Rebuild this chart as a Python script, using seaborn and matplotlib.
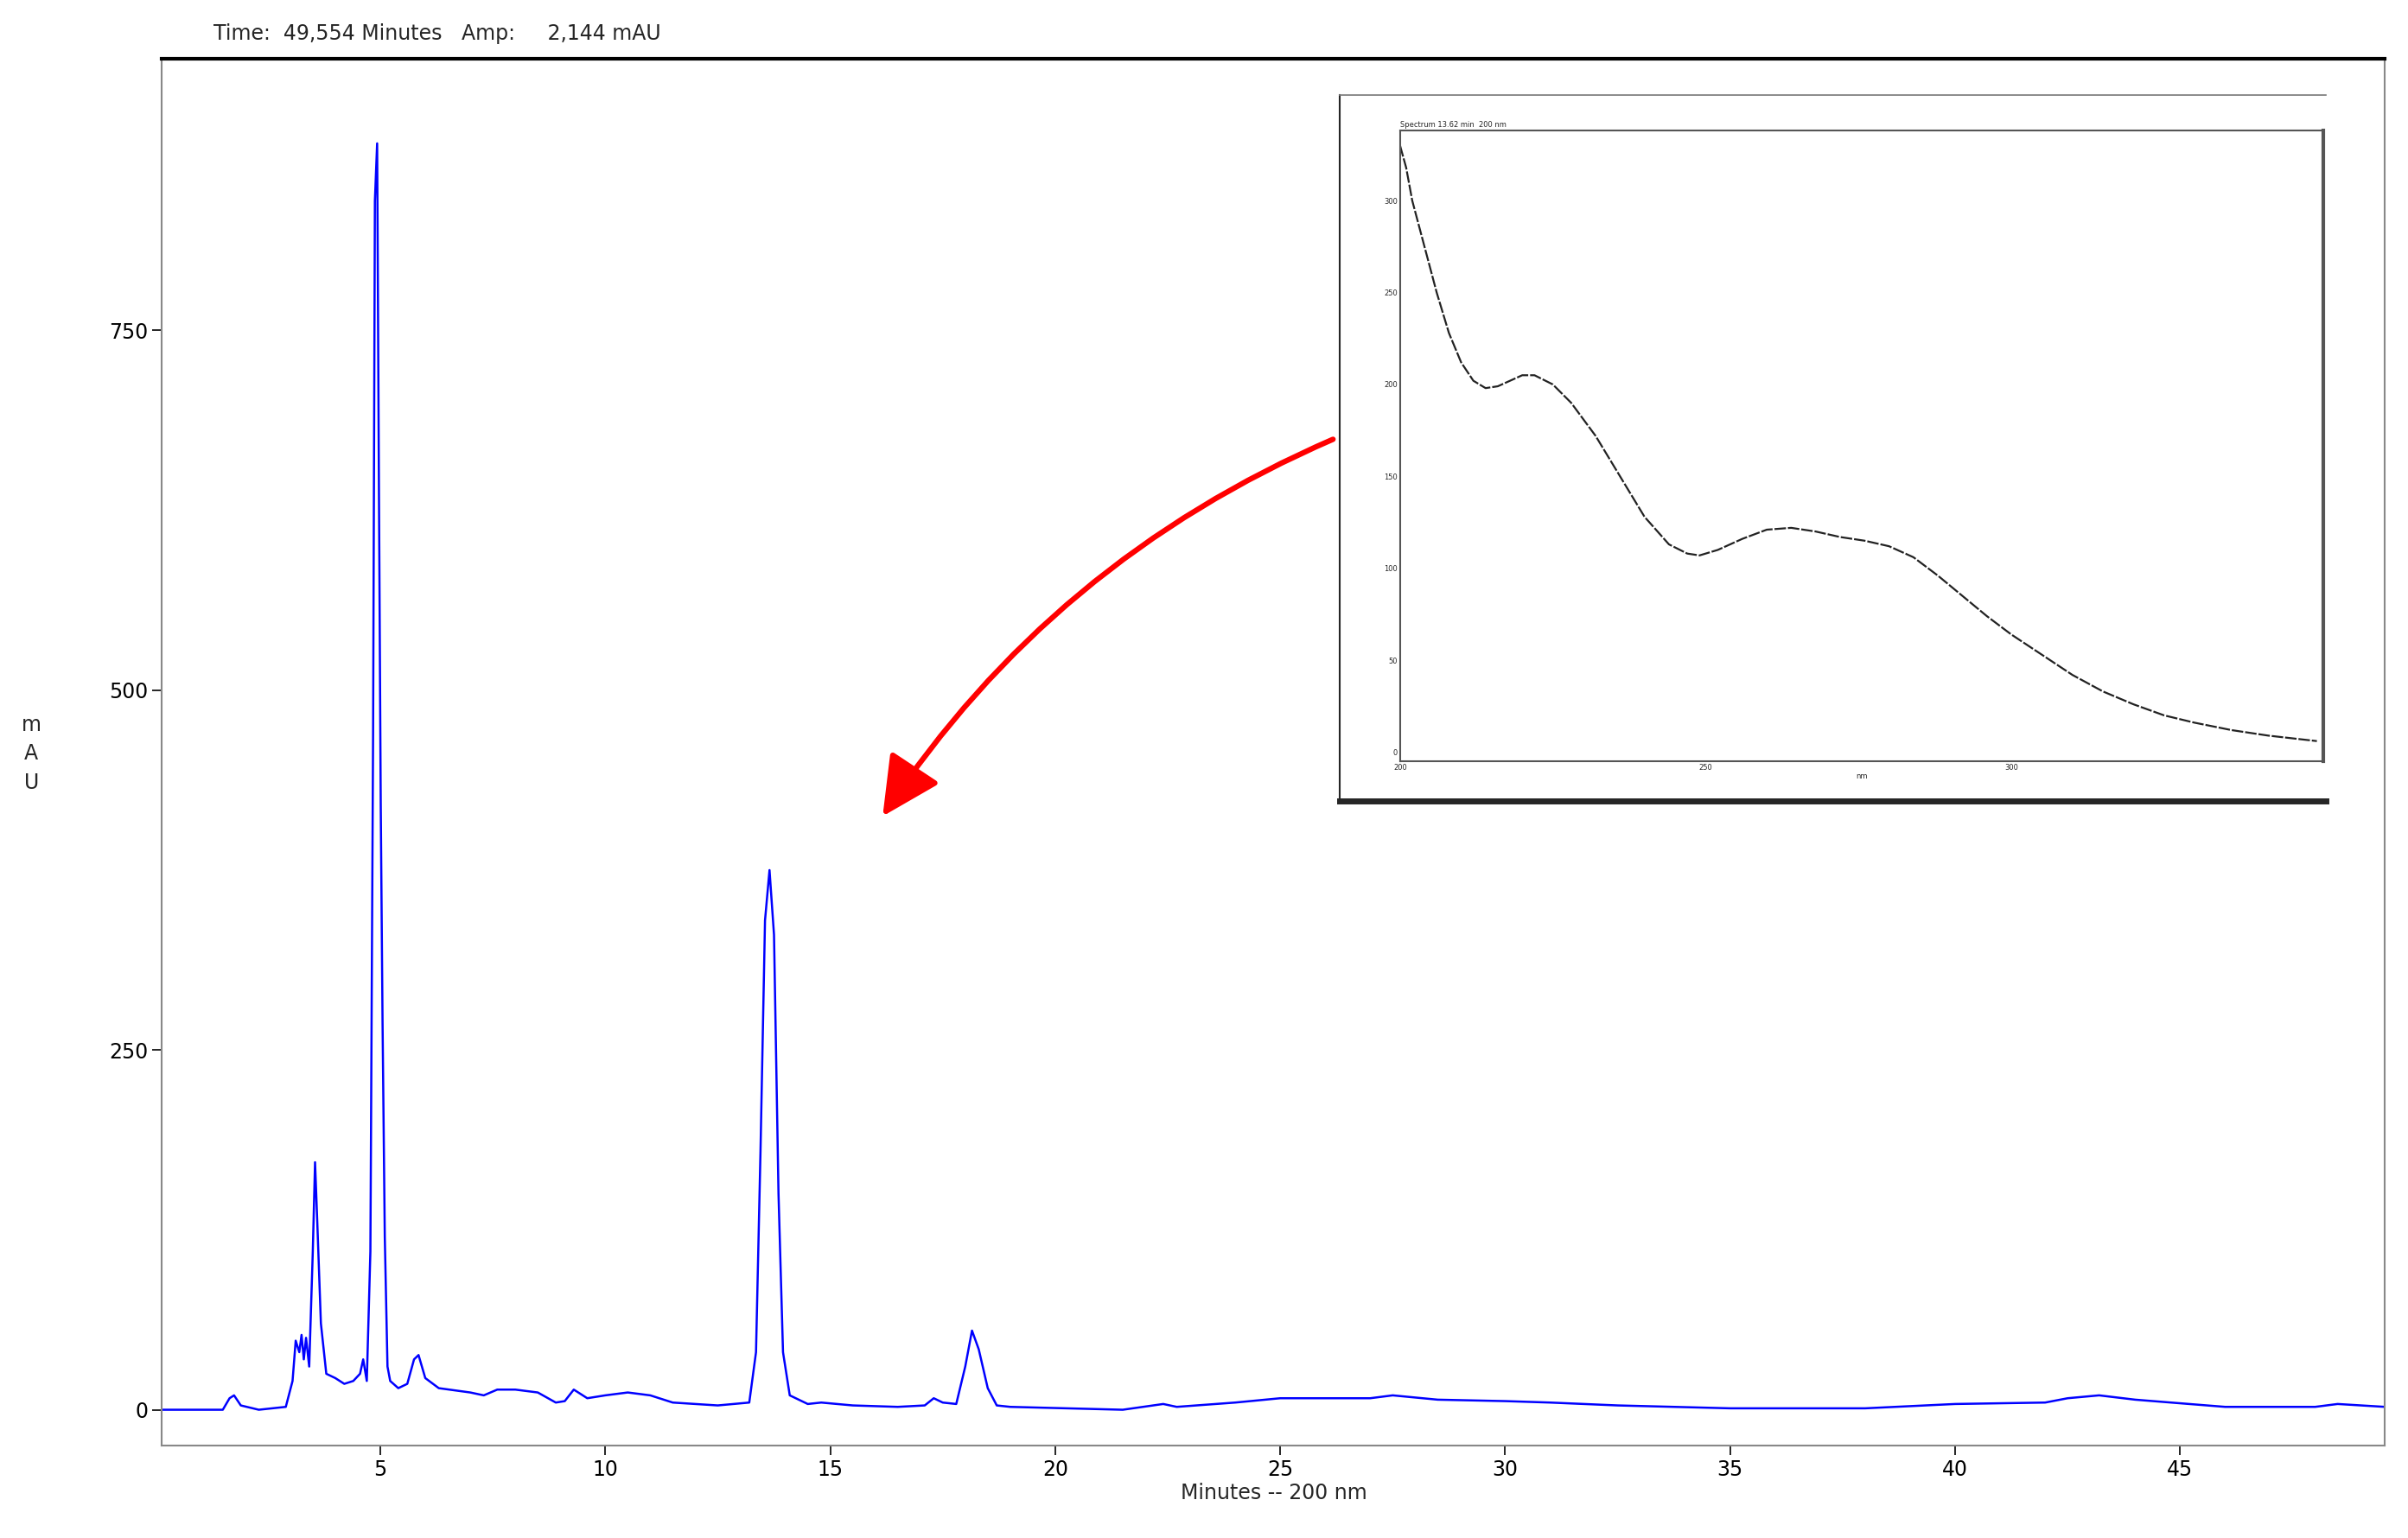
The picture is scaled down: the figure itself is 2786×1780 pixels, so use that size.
import numpy as np
import seaborn as sns
import matplotlib.pyplot as plt
from matplotlib.patches import FancyArrowPatch

# chromatogram trace (minutes, mAU)
times = [0.15, 1.5, 1.65, 1.75, 1.9, 2.3, 2.9, 3.05, 3.12, 3.2, 3.25, 3.3, 3.35, 3.42, 3.5, 3.55, 3.6, 3.68,
         3.8, 4.0, 4.2, 4.4, 4.55, 4.62, 4.7, 4.78, 4.84, 4.88, 4.93, 4.97, 5.01, 5.05, 5.1, 5.16, 5.22,
         5.4, 5.6, 5.75, 5.85, 6.0, 6.3, 7.0, 7.3, 7.6, 8.0, 8.5, 8.9, 9.1, 9.3, 9.6, 10.0, 10.5, 11.0,
         11.5, 12.5, 13.2, 13.35, 13.45, 13.55, 13.65, 13.75, 13.85, 13.95, 14.1, 14.5, 14.8, 15.5,
         16.5, 17.1, 17.3, 17.5, 17.8, 18.0, 18.15, 18.3, 18.5, 18.7, 19.0, 21.5, 22.4, 22.7, 24.0,
         25.0, 27.0, 27.5, 28.5, 30.0, 31.0, 32.5, 35.0, 38.0, 40.0, 42.0, 42.5, 43.2, 44.0, 46.0,
         48.0, 48.5, 49.55]
mau = [0, 0, 8, 10, 3, 0, 2, 20, 48, 40, 52, 35, 50, 30, 110, 172, 130, 60,
       25, 22, 18, 20, 25, 35, 20, 110, 470, 840, 880, 640, 420, 270, 120, 30, 20,
       15, 18, 35, 38, 22, 15, 12, 10, 14, 14, 12, 5, 6, 14, 8, 10, 12, 10,
       5, 3, 5, 40, 180, 340, 375, 330, 150, 40, 10, 4, 5, 3,
       2, 3, 8, 5, 4, 30, 55, 42, 15, 3, 2, 0, 4, 2, 5,
       8, 8, 10, 7, 6, 5, 3, 1, 1, 4, 5, 8, 10, 7, 2,
       2, 4, 2]

# UV spectrum in the inset (nm, mAU)
wl = [200, 201, 202, 204, 206, 208, 210, 212, 214, 216, 218, 220, 222, 225, 228, 232, 236, 240, 244,
      247, 249, 252, 256, 260, 264, 268, 272, 276, 280, 284, 288, 292, 296, 300, 305, 310, 315, 320,
      325, 330, 336, 342, 350]
absorb = [330, 318, 300, 275, 250, 228, 212, 202, 198, 199, 202, 205, 205, 200, 190, 172, 150, 128, 113,
          108, 107, 110, 116, 121, 122, 120, 117, 115, 112, 106, 96, 85, 74, 64, 53, 42, 33, 26,
          20, 16, 12, 9, 6]

sns.set_style("white")
plt.rcParams['font.family'] = ['DejaVu Sans']

fig = plt.figure(figsize=(27.86, 17.80), dpi=100)
ax = fig.add_axes([0.0673, 0.06, 0.9231, 0.902])
sns.lineplot(x=times, y=mau, ax=ax, color='#0000ff', linewidth=1.8, sort=False)
ax.set_xlim(0.15, 49.55)
ax.set_ylim(-25, 939)
ax.set_xticks([5, 10, 15, 20, 25, 30, 35, 40, 45])
ax.set_yticks([0, 250, 500, 750])
ax.tick_params(axis='both', labelsize=17, direction='out', length=8, width=1.2,
               bottom=True, left=True, colors='black')
ax.set_xlabel('Minutes -- 200 nm', fontsize=17, labelpad=2)
ax.set_ylabel('')
for s in ['left', 'right', 'bottom']:
    ax.spines[s].set_color('#888888')
    ax.spines[s].set_linewidth(1.5)
ax.spines['top'].set_color('black')
ax.spines['top'].set_linewidth(3)

fig.text(0.0885, 0.978, 'Time:  49,554 Minutes   Amp:     2,144 mAU', fontsize=17, va='center')
fig.text(0.013, 0.51, 'm\nA\nU', fontsize=17, ha='center', va='center', linespacing=1.5)

# inset frame
frame = fig.add_axes([0.5564, 0.479, 0.4096, 0.459])
frame.set_xticks([])
frame.set_yticks([])
frame.spines['left'].set_linewidth(1.5)
frame.spines['right'].set_visible(False)
frame.spines['top'].set_linewidth(1.2)
frame.spines['top'].set_color('#777777')
frame.spines['bottom'].set_linewidth(5)

ins = fig.add_axes([0.5814, 0.505, 0.3833, 0.41])
sns.lineplot(x=wl, y=absorb, ax=ins, color='#222222', linewidth=1.6, linestyle=(0, (6, 1)))
ins.set_xlim(200, 351)
ins.set_ylim(-5, 338)
ins.set_xticks([200, 250, 300])
ins.set_yticks([0, 50, 100, 150, 200, 250, 300])
ins.tick_params(axis='both', labelsize=6, length=0, pad=2)
ins.set_xlabel('nm', fontsize=6, labelpad=1)
ins.set_ylabel('')
for s in ins.spines.values():
    s.set_color('#555555')
    s.set_linewidth(1.5)
ins.spines['right'].set_linewidth(3)
ins.set_title('Spectrum 13.62 min  200 nm', fontsize=6, loc='left', pad=3)

arrow = FancyArrowPatch((0.5545, 0.715), (0.366, 0.468), transform=fig.transFigure,
                        connectionstyle='arc3,rad=0.15', arrowstyle='-|>,head_length=1.4,head_width=0.7',
                        color='#ff0000', linewidth=4.5, mutation_scale=30)
fig.add_artist(arrow)

fig.savefig('out.png', dpi=100)
